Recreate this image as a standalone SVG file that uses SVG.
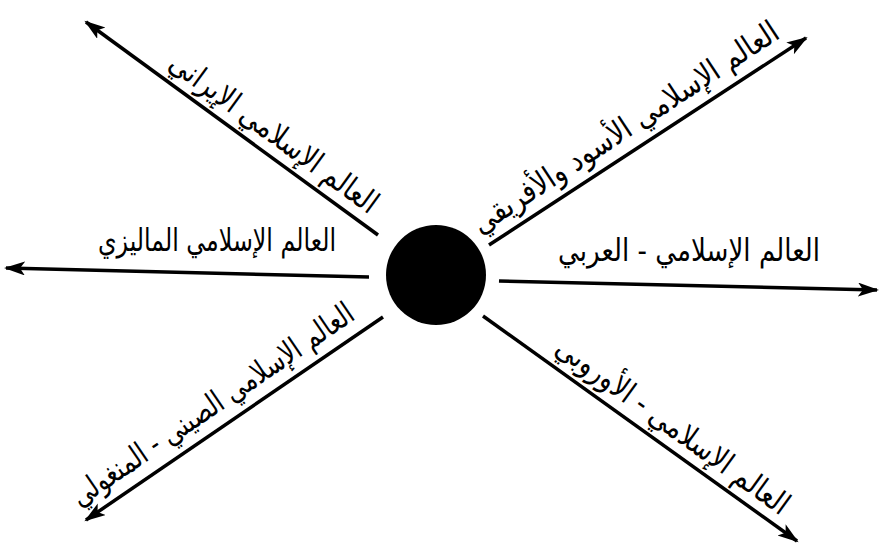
<svg xmlns="http://www.w3.org/2000/svg" width="879" height="547" viewBox="0 0 879 547">
<style>
.ln{stroke:#000;stroke-width:3.5;fill:none;marker-end:url(#ah)}
.lb{font-family:"DejaVu Sans",sans-serif;font-size:31px;fill:#000;text-anchor:middle;direction:rtl}
</style>
<defs>
<marker id="ah" markerUnits="userSpaceOnUse" markerWidth="24" markerHeight="16" refX="19" refY="7" orient="auto">
<path d="M0,0 L21,7 L0,14 L5,7 z" fill="#000"/>
</marker>
</defs>
<rect width="879" height="547" fill="#fff"/>
<g id="connectors">
<line class="ln" x1="378" y1="235" x2="86" y2="22"/>
<line class="ln" x1="369" y1="277" x2="6" y2="268"/>
<line class="ln" x1="383" y1="317" x2="86" y2="520"/>
<line class="ln" x1="489" y1="245" x2="806" y2="38"/>
<line class="ln" x1="499" y1="281" x2="877" y2="290"/>
<line class="ln" x1="483" y1="316" x2="797" y2="541"/>
</g>
<g id="center">
<circle cx="436" cy="275" r="50" fill="#000"/>
</g>
<g id="iranian">
<text class="lb" transform="translate(268,141) rotate(36.1)" textLength="250" lengthAdjust="spacingAndGlyphs">العالم الإسلامي الإيراني</text>
</g>
<g id="malaysian">
<text class="lb" x="217" y="251" textLength="238" lengthAdjust="spacingAndGlyphs">العالم الإسلامي الماليزي</text>
</g>
<g id="chinese">
<text class="lb" transform="translate(218,413) rotate(-34.3)" textLength="335" lengthAdjust="spacingAndGlyphs">العالم الإسلامي الصيني - المنغولي</text>
</g>
<g id="african">
<text class="lb" transform="translate(631,136) rotate(-33.3)" textLength="360" lengthAdjust="spacingAndGlyphs">العالم الإسلامي الأسود والأفريقي</text>
</g>
<g id="arab">
<text class="lb" x="689" y="261" textLength="262" lengthAdjust="spacingAndGlyphs">العالم الإسلامي - العربي</text>
</g>
<g id="european">
<text class="lb" transform="translate(667,434) rotate(35.9)" textLength="280" lengthAdjust="spacingAndGlyphs">العالم الإسلامي - الأوروبي</text>
</g>
</svg>
